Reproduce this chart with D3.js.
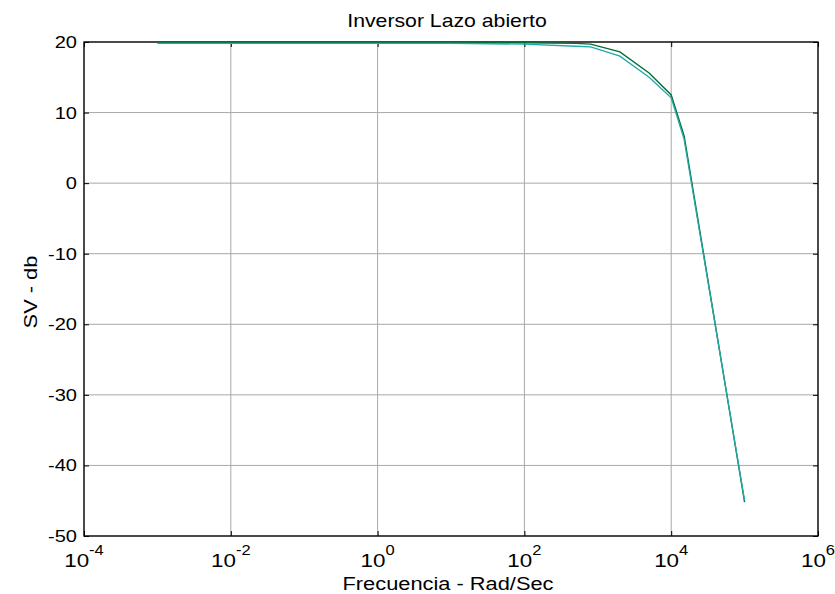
<!DOCTYPE html>
<html><head><meta charset="utf-8">
<script src="https://cdn.jsdelivr.net/npm/d3@7"></script>
<style>body{margin:0;background:#fff}svg{display:block}text{font-family:"Liberation Sans",Arial,sans-serif;fill:#000}</style>
</head><body>
<svg id="c" width="835" height="594"></svg>
<script>
const freqs = [0.001, 0.01, 0.1, 1, 10, 100, 500, 800, 2000, 5000, 10000, 15000, 100000];
const seriesGreen = [19.9, 19.9, 19.9, 19.9, 19.9, 19.9, 19.8, 19.7, 18.6, 15.6, 12.5, 6.7, -45.2];
const seriesTeal  = [19.8, 19.8, 19.8, 19.8, 19.8, 19.7, 19.4, 19.3, 18.0, 15.0, 12.1, 6.2, -45.0];
const xTickExps = [-4, -2, 0, 2, 4, 6];
const yTicks = [20, 10, 0, -10, -20, -30, -40, -50];
const title = "Inversor Lazo abierto";
const xLabel = "Frecuencia - Rad/Sec";
const yLabel = "SV - db";

const svg = d3.select("#c");
const L = 84, R = 818, T = 42, B = 536;
const x = d3.scaleLog().domain([1e-4, 1e6]).range([L, R]);
const y = d3.scaleLinear().domain([-50, 20]).range([B, T]);
const SX = 1.18;

function stext(px, py, anchor, size, str, rot) {
  const g = svg.append("g").attr("transform", `translate(${px},${py})` + (rot ? ` rotate(${rot})` : "") + ` scale(${SX},1)`);
  return g.append("text").attr("text-anchor", anchor).attr("font-size", size).text(str);
}

// grid
const g = svg.append("g");
g.selectAll(".vg").data(xTickExps).enter().append("line")
  .attr("x1", d => x(Math.pow(10, d))).attr("x2", d => x(Math.pow(10, d)))
  .attr("y1", T).attr("y2", B).attr("stroke", "#a8a8a8").attr("stroke-width", 1);
g.selectAll(".hg").data(yTicks).enter().append("line")
  .attr("x1", L).attr("x2", R).attr("y1", d => y(d)).attr("y2", d => y(d))
  .attr("stroke", "#a8a8a8").attr("stroke-width", 1);

// axes with inward ticks
const xv = xTickExps.map(e => Math.pow(10, e));
const xAxis = d3.axisBottom(x).tickValues(xv).tickSize(-5).tickFormat("");
const xAxisTop = d3.axisTop(x).tickValues(xv).tickSize(-5).tickFormat("");
const yAxis = d3.axisLeft(y).tickValues(yTicks).tickSize(-5).tickFormat("");
const yAxisR = d3.axisRight(y).tickValues(yTicks).tickSize(-5).tickFormat("");
[[xAxis, `translate(0,${B})`], [xAxisTop, `translate(0,${T})`], [yAxis, `translate(${L},0)`], [yAxisR, `translate(${R},0)`]].forEach(([ax, tr]) => {
  const a = svg.append("g").attr("transform", tr).call(ax);
  a.select(".domain").remove();
  a.selectAll("line").attr("stroke", "#000");
});
svg.append("rect").attr("x", L).attr("y", T).attr("width", R - L).attr("height", B - T)
  .attr("fill", "none").attr("stroke", "#000").attr("stroke-width", 1.3);

// lines
const line = d3.line().x(d => x(d[0])).y(d => y(d[1]));
svg.append("path").datum(freqs.map((f, i) => [f, seriesGreen[i]]))
  .attr("d", line).attr("fill", "none").attr("stroke", "#007038").attr("stroke-width", 1.4);
svg.append("path").datum(freqs.map((f, i) => [f, seriesTeal[i]]))
  .attr("d", line).attr("fill", "none").attr("stroke", "#22a8a8").attr("stroke-width", 1.3);

// y tick labels
yTicks.forEach(d => stext(L - 7, y(d) + 6, "end", 17, d));

// x tick labels 10^n
xTickExps.forEach(e => {
  const gg = svg.append("g").attr("transform", `translate(${x(Math.pow(10, e))},567) scale(${SX},1)`);
  const t = gg.append("text").attr("text-anchor", "middle").attr("font-size", 19);
  t.append("tspan").text("10");
  t.append("tspan").attr("dy", -12).attr("font-size", 14).text(e);
});

stext(447, 27, "middle", 18, title);
stext(448, 590, "middle", 18.5, xLabel);
stext(37, 292, "middle", 18.5, yLabel, -90);
</script>
</body></html>
